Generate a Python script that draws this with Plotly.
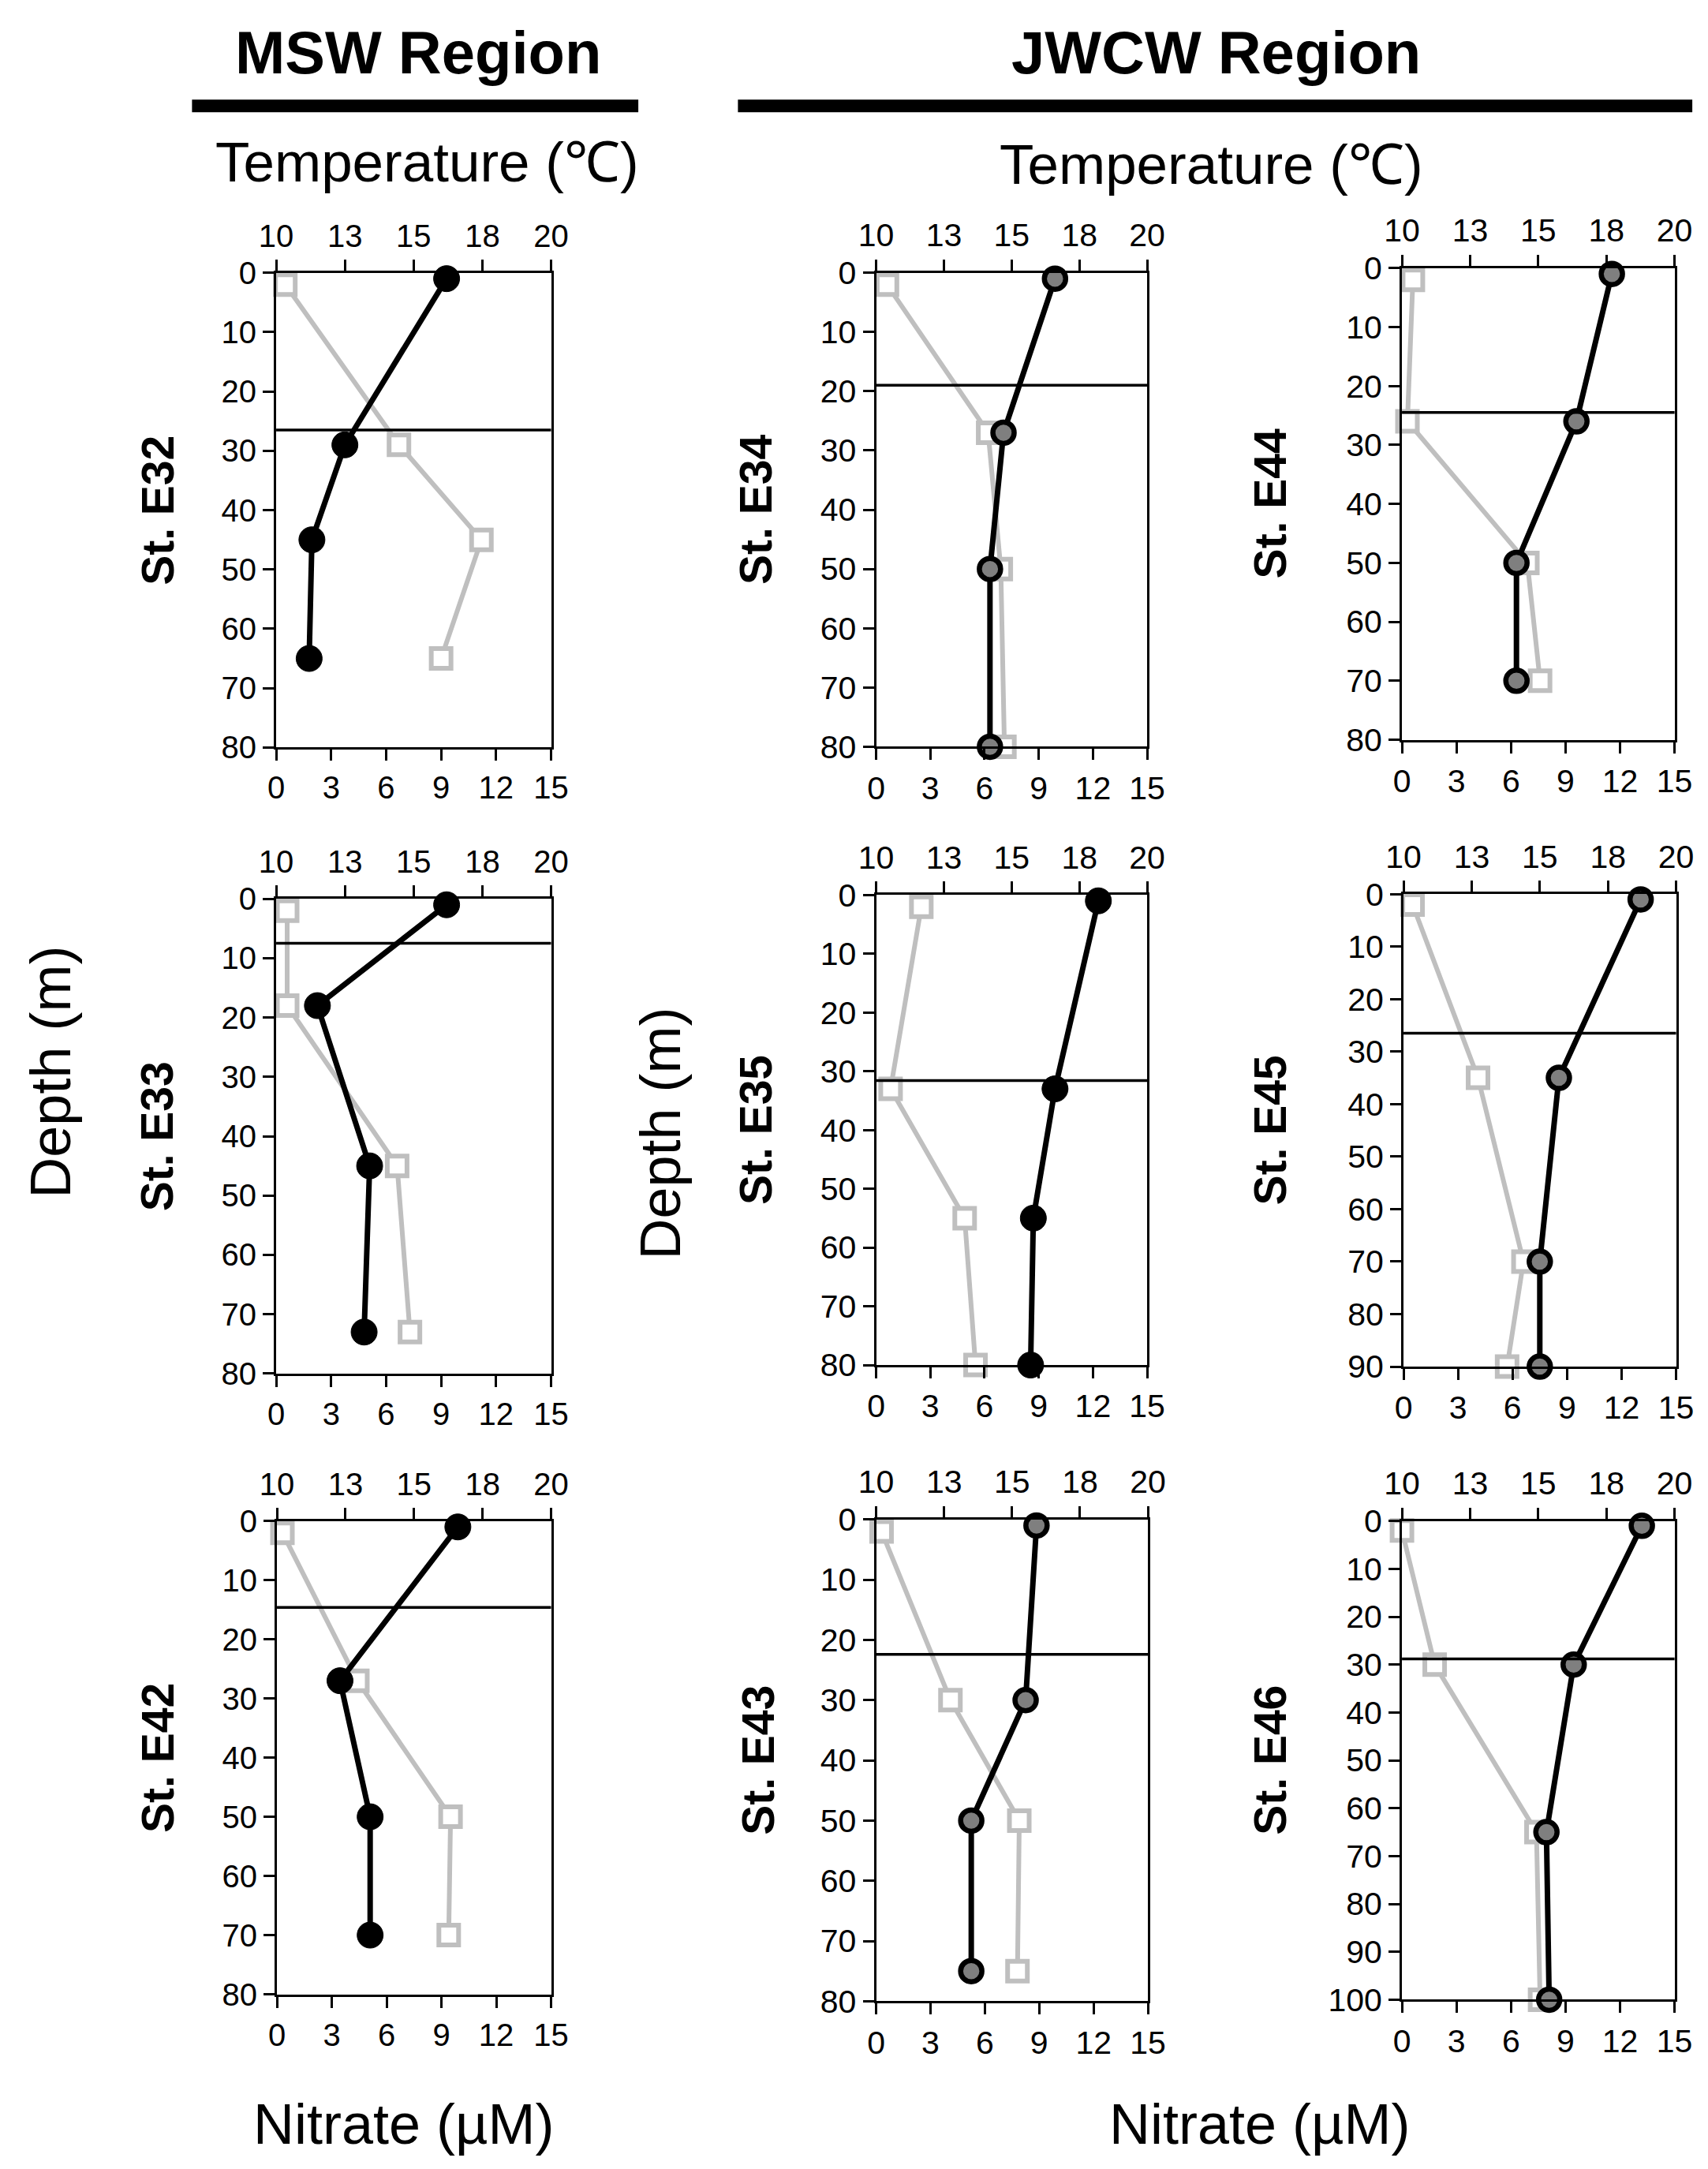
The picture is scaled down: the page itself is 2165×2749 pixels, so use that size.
import plotly.graph_objects as go

W, H = 2165, 2749

# ---- data (depth in m, temperature in degC, nitrate in uM)
E32_T_DEPTH = [1, 29, 45, 65]
E32_TEMP = [16.2, 12.5, 11.3, 11.2]
E32_N_DEPTH = [2, 29, 45, 65]
E32_NO3 = [0.5, 6.7, 11.2, 9.0]
E32_MLD = 26.5

E33_T_DEPTH = [1, 18, 45, 73]
E33_TEMP = [16.2, 11.5, 13.4, 13.2]
E33_N_DEPTH = [2, 18, 45, 73]
E33_NO3 = [0.6, 0.6, 6.6, 7.3]
E33_MLD = 7.5

E42_T_DEPTH = [1, 27, 50, 70]
E42_TEMP = [16.6, 12.3, 13.4, 13.4]
E42_N_DEPTH = [2, 27, 50, 70]
E42_NO3 = [0.3, 4.4, 9.5, 9.4]
E42_MLD = 14.6

E34_T_DEPTH = [1, 27, 50, 80]
E34_TEMP = [16.6, 14.7, 14.2, 14.2]
E34_N_DEPTH = [2, 27, 50, 80]
E34_NO3 = [0.6, 6.2, 6.9, 7.1]
E34_MLD = 19

E44_T_DEPTH = [1, 26, 50, 70]
E44_TEMP = [17.7, 16.4, 14.2, 14.2]
E44_N_DEPTH = [2, 26, 50, 70]
E44_NO3 = [0.6, 0.3, 6.9, 7.6]
E44_MLD = 24.5

E35_T_DEPTH = [1, 33, 55, 80]
E35_TEMP = [18.2, 16.6, 15.8, 15.7]
E35_N_DEPTH = [2, 33, 55, 80]
E35_NO3 = [2.5, 0.8, 4.9, 5.5]
E35_MLD = 31.6

E45_T_DEPTH = [1, 35, 70, 90]
E45_TEMP = [18.7, 15.7, 15.0, 15.0]
E45_N_DEPTH = [2, 35, 70, 90]
E45_NO3 = [0.5, 4.1, 6.6, 5.7]
E45_MLD = 26.5

E43_T_DEPTH = [1, 30, 50, 75]
E43_TEMP = [15.9, 15.5, 13.5, 13.5]
E43_N_DEPTH = [2, 30, 50, 75]
E43_NO3 = [0.3, 4.1, 7.9, 7.8]
E43_MLD = 22.4

E46_T_DEPTH = [1, 30, 65, 100]
E46_TEMP = [18.8, 16.3, 15.3, 15.4]
E46_N_DEPTH = [2, 30, 65, 100]
E46_NO3 = [0.0, 1.8, 7.4, 7.6]
E46_MLD = 28.8

TEMP_TICKS = [10, 12.5, 15, 17.5, 20]
TEMP_LABELS = ["10", "13", "15", "18", "20"]
NO3_TICKS = [0, 3, 6, 9, 12, 15]

STATIONS = [
    ("E32", E32_T_DEPTH, E32_TEMP, E32_N_DEPTH, E32_NO3, E32_MLD),
    ("E34", E34_T_DEPTH, E34_TEMP, E34_N_DEPTH, E34_NO3, E34_MLD),
    ("E44", E44_T_DEPTH, E44_TEMP, E44_N_DEPTH, E44_NO3, E44_MLD),
    ("E33", E33_T_DEPTH, E33_TEMP, E33_N_DEPTH, E33_NO3, E33_MLD),
    ("E35", E35_T_DEPTH, E35_TEMP, E35_N_DEPTH, E35_NO3, E35_MLD),
    ("E45", E45_T_DEPTH, E45_TEMP, E45_N_DEPTH, E45_NO3, E45_MLD),
    ("E42", E42_T_DEPTH, E42_TEMP, E42_N_DEPTH, E42_NO3, E42_MLD),
    ("E43", E43_T_DEPTH, E43_TEMP, E43_N_DEPTH, E43_NO3, E43_MLD),
    ("E46", E46_T_DEPTH, E46_TEMP, E46_N_DEPTH, E46_NO3, E46_MLD),
]

# panel boxes in pixels: x0, x1, y0, y1, max depth, circle fill, label x
PANELS = {
    "E32": (326, 682, 320, 932, 80, "black", 172),
    "E34": (1103, 1454, 320, 931, 80, "#7f7f7f", 947),
    "E44": (1784, 2137, 314, 922, 80, "#7f7f7f", 1613),
    "E33": (326, 682, 1127, 1739, 80, "black", 172),
    "E35": (1103, 1454, 1122, 1728, 80, "black", 947),
    "E45": (1786, 2139, 1121, 1730, 90, "#7f7f7f", 1613),
    "E42": (327, 682, 1929, 2539, 80, "black", 172),
    "E43": (1103, 1455, 1927, 2548, 80, "#7f7f7f", 950),
    "E46": (1784, 2137, 1929, 2546, 100, "#7f7f7f", 1613),
}

FONT = "Liberation Sans, Arial, sans-serif"
GRAY = "#bfbfbf"


def ax(k):
    return "" if k == 1 else str(k)


fig = go.Figure()
shapes = []
annotations = []

for i, (name, tdep, temp, ndep, no3, mld) in enumerate(STATIONS):
    x0, x1, y0, y1, dmax, fill, lab_x = PANELS[name]
    msw = name in ("E32", "E33", "E42")
    tick_font = dict(family=FONT, size=40 if msw else 41, color="black")
    nx, tx, yy = 2 * i + 1, 2 * i + 2, i + 1

    axis_common = dict(showline=True, linecolor="black", linewidth=3, ticks="outside",
                       ticklen=14, tickwidth=2.5, tickcolor="black", showgrid=False,
                       zeroline=False, tickfont=tick_font)

    fig.layout["xaxis" + ax(nx)] = dict(
        domain=[x0 / W, x1 / W], anchor="y" + ax(yy), range=[0, 15],
        tickvals=NO3_TICKS, side="bottom", **axis_common)
    fig.layout["xaxis" + ax(tx)] = dict(
        overlaying="x" + ax(nx), anchor="y" + ax(yy), side="top", range=[10, 20],
        tickvals=TEMP_TICKS, ticktext=TEMP_LABELS, **axis_common)
    fig.layout["yaxis" + ax(yy)] = dict(
        domain=[1 - y1 / H, 1 - y0 / H], anchor="x" + ax(nx), range=[dmax, 0],
        dtick=10, mirror=True, **axis_common)

    # temperature profile (top axis)
    if fill == "black":
        circle = dict(symbol="circle", size=33, color="black", line=dict(color="black", width=1))
    else:
        circle = dict(symbol="circle", size=27, color=fill, line=dict(color="black", width=6.5))
    fig.add_trace(go.Scatter(
        x=temp, y=tdep, xaxis="x" + ax(tx), yaxis="y" + ax(yy), mode="lines+markers",
        line=dict(color="black", width=7), cliponaxis=False, marker=circle,
        showlegend=False))
    # nitrate profile (bottom axis)
    fig.add_trace(go.Scatter(
        x=no3, y=ndep, xaxis="x" + ax(nx), yaxis="y" + ax(yy), mode="lines+markers",
        line=dict(color=GRAY, width=6), cliponaxis=False,
        marker=dict(symbol="square", size=25, color="white",
                    line=dict(color=GRAY, width=6)),
        showlegend=False))

    # mixed layer depth
    shapes.append(dict(type="line", xref="x" + ax(nx) + " domain", yref="y" + ax(yy),
                       x0=0, x1=1, y0=mld, y1=mld, line=dict(color="black", width=3.5)))

    annotations.append(dict(
        text="<b>St. " + name + "</b>", xref="paper", yref="paper", x=lab_x / W,
        y=1 - (y0 + y1) / 2 / H, textangle=-90, showarrow=False,
        font=dict(family=FONT, size=57, color="black"), xanchor="center", yanchor="middle"))


def text(t, px, py, size, angle=0):
    annotations.append(dict(text=t, xref="paper", yref="paper", x=px / W, y=1 - py / H,
                            showarrow=False, textangle=angle, xanchor="center",
                            yanchor="middle", font=dict(family=FONT, size=size, color="black")))


text("<b>MSW Region</b>", 510, 36, 76)
text("<b>JWCW Region</b>", 1543, 36, 76)
text("Temperature (\u2103)", 522, 177, 71)
text("Temperature (\u2103)", 1537, 181, 71)
text("Nitrate (\u00b5M)", 491, 2706, 72)
text("Nitrate (\u00b5M)", 1599, 2706, 72)
text("Depth (m)", 34, 1350, 72, angle=-90)
text("Depth (m)", 824, 1429, 72, angle=-90)

shapes.append(dict(type="line", xref="paper", yref="paper", x0=217 / W, x1=795 / W,
                   y0=1 - 105 / H, y1=1 - 105 / H, line=dict(color="black", width=16)))
shapes.append(dict(type="line", xref="paper", yref="paper", x0=924 / W, x1=2160 / W,
                   y0=1 - 105 / H, y1=1 - 105 / H, line=dict(color="black", width=16)))

fig.update_layout(width=W, height=H, margin=dict(l=0, r=0, t=0, b=0),
                  paper_bgcolor="white", plot_bgcolor="white",
                  shapes=shapes, annotations=annotations, showlegend=False)

fig.write_html("out.html")
